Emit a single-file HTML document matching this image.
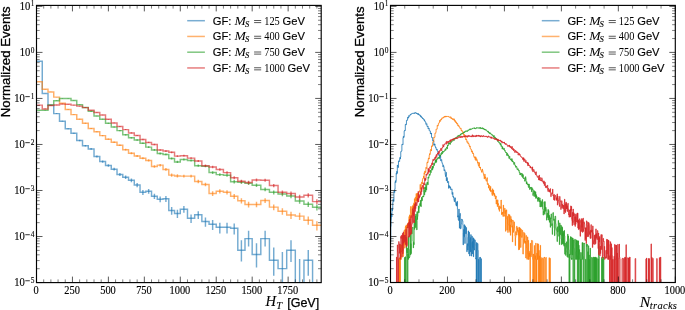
<!DOCTYPE html>
<html><head><meta charset="utf-8"><style>html,body{margin:0;padding:0;background:#fff;}svg{display:block;will-change:transform}</style></head>
<body><svg xmlns="http://www.w3.org/2000/svg" width="685" height="310" viewBox="0 0 685 310"><defs><clipPath id="cl"><rect x="36.5" y="5.4" width="284.70" height="277.20"/></clipPath><clipPath id="cr"><rect x="390.5" y="5.4" width="284.80" height="277.10"/></clipPath></defs><g clip-path="url(#cl)" stroke="#1f77b4" stroke-opacity="0.62" fill="none" stroke-width="1.45"><path d="M36.50 61.20H42.25V93.40H48.00V105.30H53.75V113.60H59.51V121.20H65.26V128.80H71.01V133.20H76.76V140.50H82.51V145.80H88.26V148.90H94.02V156.40H99.77V161.50H105.52V165.50H111.27V169.20H117.02V174.40H122.77V177.20H128.52V180.30H134.28V185.00H140.03V192.30H145.78V191.30H151.53V196.20H157.28V199.20H163.03V198.80H168.78V210.50H174.54V213.40H180.29V209.20H187.48V218.20H194.67V214.80H201.86V221.50H209.05V224.30H216.23V227.30H223.42V227.30H230.61V228.20H237.80V250.30H244.99V238.60H252.18V254.40H260.81V238.60H269.44V260.30H278.06V268.60H286.69V250.30H295.32V400.00H303.95V260.30H312.57V400.00H321.20"/><path d="M39.38 61.11V61.29M45.13 93.19V93.61M50.88 105.02V105.58M56.63 113.26V113.94M62.38 120.79V121.62M68.13 128.31V129.31M73.88 132.65V133.77M79.64 139.84V141.18M85.39 145.05V146.58M91.14 148.09V149.74M96.89 155.43V157.42M102.64 160.40V162.67M108.39 164.29V166.79M114.15 167.87V170.62M119.90 172.89V176.03M125.65 175.59V178.95M131.40 178.56V182.20M137.15 183.06V187.15M142.90 189.99V194.91M148.65 189.05V193.84M154.41 193.67V199.10M160.16 196.48V202.34M165.91 196.11V201.91M171.66 206.97V214.79M177.41 209.63V218.05M183.88 206.11V212.86M191.07 214.40V222.89M198.26 211.29V219.07M205.45 217.41V226.65M212.64 219.94V229.89M219.83 222.64V233.39M227.02 222.64V233.39M234.21 223.44V234.46M241.40 240.20V261.60M248.59 230.80V246.50M256.50 243.30V267.50M265.12 230.80V246.50M273.75 247.40V275.80M282.38 252.00V300.00M291.00 240.20V261.90M299.63 259.00V300.00M308.26 250.00V275.80M316.89 300.00V300.00"/></g><g clip-path="url(#cl)" stroke="#ff7f0e" stroke-opacity="0.62" fill="none" stroke-width="1.45"><path d="M36.50 81.70H42.25V89.20H48.00V91.90H53.75V97.10H59.51V103.30H65.26V109.40H71.01V114.60H76.76V119.20H82.51V123.30H88.26V128.40H94.02V131.70H99.77V135.60H105.52V139.20H111.27V142.20H117.02V145.30H122.77V149.70H128.52V153.20H134.28V155.90H140.03V158.20H145.78V160.40H151.53V166.50H157.28V165.10H163.03V169.40H168.78V175.10H174.54V175.90H180.29V176.10H187.48V176.10H194.67V181.40H201.86V184.40H209.05V193.50H216.23V191.30H223.42V192.30H230.61V196.30H237.80V200.70H244.99V204.40H252.18V204.40H260.81V200.50H269.44V207.10H278.06V211.30H286.69V215.00H295.32V216.10H303.95V220.20H312.57V225.30H321.20"/><path d="M39.38 81.55V81.85M45.13 89.02V89.39M50.88 91.70V92.10M56.63 96.88V97.33M62.38 103.04V103.57M68.13 109.09V109.71M73.88 114.25V114.95M79.64 118.81V119.60M85.39 122.87V123.74M91.14 127.91V128.90M96.89 131.17V132.24M102.64 135.02V136.20M108.39 138.56V139.86M114.15 141.51V142.91M119.90 144.56V146.07M125.65 148.87V150.56M131.40 152.30V154.14M137.15 154.94V156.91M142.90 157.18V159.27M148.65 159.33V161.53M154.41 165.26V167.83M160.16 163.90V166.38M165.91 168.07V170.83M171.66 173.57V176.76M177.41 174.34V177.59M183.88 174.69V177.62M191.07 174.69V177.62M198.26 179.80V183.14M205.45 182.68V186.28M212.64 191.36V195.89M219.83 189.27V193.56M227.02 190.22V194.62M234.21 194.02V198.88M241.40 198.17V203.60M248.59 201.64V207.61M256.50 201.86V207.31M265.12 198.19V203.12M273.75 204.40V210.23M282.38 208.32V214.80M291.00 211.75V218.88M299.63 212.77V220.10M308.26 216.54V224.68M316.89 221.19V230.48"/></g><g clip-path="url(#cl)" stroke="#2ca02c" stroke-opacity="0.62" fill="none" stroke-width="1.45"><path d="M36.50 110.30H42.25V110.30H48.00V105.00H53.75V100.70H59.51V98.40H65.26V98.40H71.01V100.40H76.76V104.80H82.51V107.40H88.26V111.30H94.02V116.00H99.77V119.20H105.52V123.20H111.27V127.00H117.02V130.60H122.77V134.80H128.52V137.80H134.28V140.00H140.03V143.30H145.78V147.10H151.53V149.90H157.28V153.50H163.03V154.40H168.78V158.50H174.54V161.90H180.29V159.50H187.48V160.40H194.67V165.70H201.86V166.20H209.05V172.50H216.23V174.60H223.42V175.30H230.61V181.70H237.80V182.20H244.99V183.20H252.18V185.20H260.81V189.40H269.44V192.30H278.06V194.00H286.69V195.90H295.32V201.00H303.95V204.20H312.57V207.30H321.20"/><path d="M39.38 109.99V110.62M45.13 109.99V110.62M50.88 104.73V105.28M56.63 100.45V100.95M62.38 98.17V98.64M68.13 98.17V98.64M73.88 100.16V100.65M79.64 104.53V105.08M85.39 107.11V107.69M91.14 110.98V111.63M96.89 115.64V116.37M102.64 118.81V119.60M108.39 122.77V123.64M114.15 126.53V127.48M119.90 130.08V131.13M125.65 134.23V135.39M131.40 137.18V138.44M137.15 139.35V140.67M142.90 142.59V144.03M148.65 146.33V147.91M154.41 149.07V150.77M160.16 152.59V154.45M165.91 153.47V155.37M171.66 157.48V159.58M177.41 160.79V163.08M183.88 158.56V160.49M191.07 159.44V161.41M198.26 164.61V166.86M205.45 165.09V167.37M212.64 171.21V173.88M219.83 173.24V176.06M227.02 173.92V176.78M234.21 180.09V183.45M241.40 180.57V183.98M248.59 181.53V185.02M256.50 183.59V186.95M265.12 187.62V191.35M273.75 190.40V194.41M282.38 192.02V196.20M291.00 193.83V198.22M299.63 198.66V203.65M308.26 201.68V207.09M316.89 204.59V210.44"/></g><g clip-path="url(#cl)" stroke="#d62728" stroke-opacity="0.62" fill="none" stroke-width="1.45"><path d="M36.50 105.10H42.25V108.90H48.00V105.50H53.75V105.00H59.51V104.10H65.26V104.30H71.01V105.10H76.76V106.10H82.51V107.60H88.26V110.20H94.02V112.40H99.77V115.00H105.52V119.30H111.27V122.90H117.02V126.50H122.77V129.60H128.52V132.90H134.28V135.50H140.03V139.50H145.78V142.40H151.53V144.40H157.28V150.00H163.03V151.00H168.78V152.30H174.54V156.10H180.29V155.70H187.48V158.10H194.67V160.90H201.86V165.70H209.05V167.00H216.23V169.40H223.42V172.60H230.61V177.70H237.80V181.30H244.99V182.40H252.18V179.90H260.81V180.30H269.44V185.50H278.06V192.30H286.69V193.50H295.32V197.00H303.95V195.20H312.57V201.60H321.20"/><path d="M39.38 104.83V105.38M45.13 108.60V109.21M50.88 105.22V105.78M56.63 104.73V105.28M62.38 103.83V104.37M68.13 104.03V104.57M73.88 104.83V105.38M79.64 105.82V106.39M85.39 107.31V107.90M91.14 109.89V110.52M96.89 112.07V112.73M102.64 114.65V115.36M108.39 118.91V119.70M114.15 122.47V123.34M119.90 126.03V126.98M125.65 129.10V130.12M131.40 132.35V133.46M137.15 134.92V136.10M142.90 138.86V140.16M148.65 141.71V143.12M154.41 143.67V145.15M160.16 149.17V150.87M165.91 150.15V151.89M171.66 151.42V153.22M177.41 155.13V157.11M183.88 154.84V156.60M191.07 157.19V159.05M198.26 159.93V161.92M205.45 164.61V166.86M212.64 165.87V168.20M219.83 168.20V170.67M227.02 171.31V173.98M234.21 176.24V179.28M241.40 179.70V183.04M248.59 180.76V184.19M256.50 178.49V181.42M265.12 178.87V181.84M273.75 183.88V187.26M282.38 190.40V194.41M291.00 191.54V195.67M299.63 194.87V199.38M308.26 193.16V197.47M316.89 199.23V204.30"/></g><g clip-path="url(#cr)" stroke="#1f77b4" stroke-opacity="0.85" fill="none" stroke-width="0.95"><path d="M390.50 242.6H390.78V226.5H391.07V219.7H391.35V213.4H391.64V217.0H391.92V208.4H392.21V210.8H392.49V208.2H392.78V202.6H393.06V198.9H393.35V200.4H393.63V201.4H393.92V191.2H394.20V190.8H394.49V192.6H394.77V189.0H395.06V182.0H395.34V180.7H395.63V182.6H395.91V180.9H396.20V173.2H396.48V174.2H396.77V171.3H397.05V173.3H397.34V165.1H397.62V166.0H397.90V167.6H398.19V167.3H398.47V160.9H398.76V161.2H399.04V161.2H399.33V161.5H399.61V158.7H399.90V157.4H400.18V159.0H400.47V157.0H400.75V151.6H401.04V151.6H401.32V151.2H401.61V150.9H401.89V144.4H402.18V144.6H402.46V144.2H402.75V144.7H403.03V137.6H403.32V136.3H403.60V137.6H403.89V136.8H404.17V131.1H404.46V130.4H404.74V130.7H405.02V130.6H405.31V124.5H405.59V124.1H405.88V124.7H406.16V124.7H406.45V120.5H406.73V120.1H407.02V120.3H407.30V120.0H407.59V117.6H407.87V117.0H408.16V118.1H408.44V117.7H408.73V115.7H409.01V116.1H409.30V116.2H409.58V116.1H409.87V115.2H410.15V114.7H410.44V114.1H410.72V114.5H411.01V114.1H411.29V114.0H411.58V113.9H411.86V113.5H412.14V113.5H412.43V113.5H412.71V113.1H413.00V113.1H413.28V113.2H413.57V113.4H413.85V113.5H414.14V113.3H414.42V113.5H414.71V112.7H414.99V113.0H415.28V112.8H415.56V112.7H415.85V112.9H416.13V113.5H416.42V113.0H416.70V113.3H416.99V113.8H417.27V113.8H417.56V113.6H417.84V114.4H418.13V113.6H418.41V114.6H418.70V114.3H418.98V115.1H419.26V115.0H419.55V114.9H419.83V114.9H420.12V116.1H420.40V115.7H420.69V116.7H420.97V116.1H421.26V117.5H421.54V117.2H421.83V117.2H422.11V117.5H422.40V118.8H422.68V118.4H422.97V118.5H423.25V118.8H423.54V119.4H423.82V119.3H424.11V120.5H424.39V119.9H424.68V121.1H424.96V121.7H425.25V121.9H425.53V122.0H425.82V124.2H426.10V124.0H426.38V124.2H426.67V123.7H426.95V126.4H427.24V126.4H427.52V126.7H427.81V126.2H428.09V128.9H428.38V128.6H428.66V128.1H428.95V128.4H429.23V130.8H429.52V130.8H429.80V130.9H430.09V131.0H430.37V133.7H430.66V133.2H430.94V134.0H431.23V133.0H431.51V137.3H431.80V137.6H432.08V137.5H432.37V137.6H432.65V140.6H432.94V141.1H433.22V140.1H433.50V141.1H433.79V145.2H434.07V144.3H434.36V145.0H434.64V143.9H434.93V146.3H435.21V146.5H435.50V147.7H435.78V147.4H436.07V148.8H436.35V149.8H436.64V150.0H436.92V149.3H437.21V150.6H437.49V151.4H437.78V152.2H438.06V152.1H438.35V154.2H438.63V155.1H438.92V155.4H439.20V154.6H439.49V158.1H439.77V157.4H440.06V157.2H440.34V155.4H440.62V160.7H440.91V160.1H441.19V160.2H441.48V159.6H441.76V161.9H442.05V163.3H442.33V163.6H442.62V164.3H442.90V166.8H443.19V165.4H443.47V165.8H443.76V166.9H444.04V170.7H444.33V170.2H444.61V169.7H444.90V170.9H445.18V174.6H445.47V176.5H445.75V175.7H446.04V172.3H446.32V180.9H446.61V178.4H446.89V177.6H447.18V178.4H447.46V182.7H447.74V181.6H448.03V181.5H448.31V181.6H448.60V188.3H448.88V185.5H449.17V186.6H449.45V186.1H449.74V188.0H450.02V187.3H450.31V186.9H450.59V189.3H450.88V189.7H451.16V189.3H451.45V189.3H451.73V188.9H452.02V194.4H452.30V194.4H452.59V192.4H452.87V196.8H453.16V196.3H453.44V197.8H453.73V197.5H454.01V200.4H454.30V201.7H454.58V199.2H454.86V197.8H455.15V198.1H455.43V201.7H455.72V202.8H456.00V205.4H456.29V202.6H456.57V206.1H456.86V204.5H457.14V201.3H457.43V209.5H457.71V217.1H458.00V215.7H458.28V219.9H458.57V220.4H458.85V209.0H459.14V216.3H459.42V228.2H459.71V216.2H459.99V213.4H460.28V225.3H460.56V228.9H460.85V227.7H461.13V224.2H461.42V222.3H461.70V219.0H461.98V219.7H462.27V220.3H462.55V220.9H462.84V224.8H463.12V244.9H463.41V233.0H463.69V229.5H463.98V236.4H464.26V224.7H464.55V237.4H464.83V243.5H465.12V225.9H465.40V228.7H465.69V233.7H465.97V227.4H466.26V227.9H466.54V233.8H466.83V251.8H467.11V245.6H467.40V243.7H467.68V250.0H467.97V237.3H468.25V230.9H468.54V245.9H468.82V253.9H469.10V232.2H469.39V246.9H469.67V256.0H469.96V239.5H470.24V237.6H470.53V251.9H470.81V234.6H471.10V250.1H471.38V256.1H471.67V242.5H471.95V236.2H472.24V253.9H472.52V241.6H472.81V247.6H473.09V237.8H473.38V256.8H473.66V238.5H473.95V248.7H474.23V250.1H474.52V239.7H474.80V240.1H475.09V240.4H475.37V245.0H475.66V259.0H475.94V258.5H476.22V400.0H476.51V242.5H476.79V400.0H477.08H477.36V243.4H477.65V243.7H477.93V250.5H478.22V400.0H478.50V259.4H478.79H479.07V400.0H479.36V257.9H479.64V257.6H479.93V258.2H480.21V257.3H480.50V400.0H480.78H481.07V258.7H481.35V400.0H481.64H481.92H482.21H482.49H482.78H483.06H483.34H483.63H483.91H484.20H484.48H484.77H485.05H485.34H485.62H485.91H486.19H486.48H486.76H487.05H487.33H487.62H487.90H488.19H488.47H488.76H489.04H489.33H489.61H489.90H490.18H490.46H490.75H491.03H491.32H491.60H491.89H492.17H492.46H492.74H493.03H493.31H493.60H493.88H494.17H494.45H494.74H495.02H495.31H495.59H495.88H496.16H496.45H496.73H497.02H497.30H497.58H497.87H498.15H498.44H498.72H499.01H499.29H499.58H499.86H500.15H500.43H500.72H501.00H501.29H501.57H501.86H502.14H502.43H502.71H503.00H503.28H503.57H503.85H504.14H504.42H504.70H504.99H505.27H505.56H505.84H506.13H506.41H506.70H506.98H507.27H507.55H507.84H508.12H508.41H508.69H508.98H509.26H509.55H509.83H510.12H510.40H510.69H510.97H511.26H511.54H511.82H512.11H512.39H512.68H512.96H513.25H513.53H513.82H514.10H514.39H514.67H514.96H515.24H515.53H515.81H516.10H516.38H516.67H516.95H517.24H517.52H517.81H518.09H518.38H518.66H518.94H519.23H519.51H519.80H520.08H520.37H520.65H520.94H521.22H521.51H521.79H522.08H522.36H522.65H522.93H523.22H523.50H523.79H524.07H524.36H524.64H524.93H525.21H525.50H525.78H526.06H526.35H526.63H526.92H527.20H527.49H527.77H528.06H528.34H528.63H528.91H529.20H529.48H529.77H530.05H530.34H530.62H530.91H531.19H531.48H531.76H532.05H532.33H532.62H532.90H533.18H533.47H533.75H534.04H534.32H534.61H534.89H535.18H535.46H535.75H536.03H536.32H536.60H536.89H537.17H537.46H537.74H538.03H538.31H538.60H538.88H539.17H539.45H539.74H540.02H540.30H540.59H540.87H541.16H541.44H541.73H542.01H542.30H542.58H542.87H543.15H543.44H543.72H544.01H544.29H544.58H544.86H545.15H545.43H545.72H546.00H546.29H546.57H546.86H547.14H547.42H547.71H547.99H548.28H548.56H548.85H549.13H549.42H549.70H549.99H550.27H550.56H550.84H551.13H551.41H551.70H551.98H552.27H552.55H552.84H553.12H553.41H553.69H553.98H554.26H554.54H554.83H555.11H555.40H555.68H555.97H556.25H556.54H556.82H557.11H557.39H557.68H557.96H558.25H558.53H558.82H559.10H559.39H559.67H559.96H560.24H560.53H560.81H561.10H561.38H561.66H561.95H562.23H562.52H562.80H563.09H563.37H563.66H563.94H564.23H564.51H564.80H565.08H565.37H565.65H565.94H566.22H566.51H566.79H567.08H567.36H567.65H567.93H568.22H568.50H568.78H569.07H569.35H569.64H569.92H570.21H570.49H570.78H571.06H571.35H571.63H571.92H572.20H572.49H572.77H573.06H573.34H573.63H573.91H574.20H574.48H574.77H575.05H575.34H575.62H575.90H576.19H576.47H576.76H577.04H577.33H577.61H577.90H578.18H578.47H578.75H579.04H579.32H579.61H579.89H580.18H580.46H580.75H581.03H581.32H581.60H581.89H582.17H582.46H582.74H583.02H583.31H583.59H583.88H584.16H584.45H584.73H585.02H585.30H585.59H585.87H586.16H586.44H586.73H587.01H587.30H587.58H587.87H588.15H588.44H588.72H589.01H589.29H589.58H589.86H590.14H590.43H590.71H591.00H591.28H591.57H591.85H592.14H592.42H592.71H592.99H593.28H593.56H593.85H594.13H594.42H594.70H594.99H595.27H595.56H595.84H596.13H596.41H596.70H596.98H597.26H597.55H597.83H598.12H598.40H598.69H598.97H599.26H599.54H599.83H600.11H600.40H600.68H600.97H601.25H601.54H601.82H602.11H602.39H602.68H602.96H603.25H603.53H603.82H604.10H604.38H604.67H604.95H605.24H605.52H605.81H606.09H606.38H606.66H606.95H607.23H607.52H607.80H608.09H608.37H608.66H608.94H609.23H609.51H609.80H610.08H610.37H610.65H610.94H611.22H611.50H611.79H612.07H612.36H612.64H612.93H613.21H613.50H613.78H614.07H614.35H614.64H614.92H615.21H615.49H615.78H616.06H616.35H616.63H616.92H617.20H617.49H617.77H618.06H618.34H618.62H618.91H619.19H619.48H619.76H620.05H620.33H620.62H620.90H621.19H621.47H621.76H622.04H622.33H622.61H622.90H623.18H623.47H623.75H624.04H624.32H624.61H624.89H625.18H625.46H625.74H626.03H626.31H626.60H626.88H627.17H627.45H627.74H628.02H628.31H628.59H628.88H629.16H629.45H629.73H630.02H630.30H630.59H630.87H631.16H631.44H631.73H632.01H632.30H632.58H632.86H633.15H633.43H633.72H634.00H634.29H634.57H634.86H635.14H635.43H635.71H636.00H636.28H636.57H636.85H637.14H637.42H637.71H637.99H638.28H638.56H638.85H639.13H639.42H639.70H639.98H640.27H640.55H640.84H641.12H641.41H641.69H641.98H642.26H642.55H642.83H643.12H643.40H643.69H643.97H644.26H644.54H644.83H645.11H645.40H645.68H645.97H646.25H646.54H646.82H647.10H647.39H647.67H647.96H648.24H648.53H648.81H649.10H649.38H649.67H649.95H650.24H650.52H650.81H651.09H651.38H651.66H651.95H652.23H652.52H652.80H653.09H653.37H653.66H653.94H654.22H654.51H654.79H655.08H655.36H655.65H655.93H656.22H656.50H656.79H657.07H657.36H657.64H657.93H658.21H658.50H658.78H659.07H659.35H659.64H659.92H660.21H660.49H660.78H661.06H661.34H661.63H661.91H662.20H662.48H662.77H663.05H663.34H663.62H663.91H664.19H664.48H664.76H665.05H665.33H665.62H665.90H666.19H666.47H666.76H667.04H667.33H667.61H667.90H668.18H668.46H668.75H669.03H669.32H669.60H669.89H670.17H670.46H670.74H671.03H671.31H671.60H671.88H672.17H672.45H672.74H673.02H673.31H673.59H673.88H674.16H674.45H674.73H675.02H675.30"/></g><g clip-path="url(#cr)" stroke="#ff7f0e" stroke-opacity="0.85" fill="none" stroke-width="0.95"><path d="M390.50 400.0H390.78H391.07H391.35H391.64H391.92H392.21H392.49H392.78H393.06H393.35H393.63H393.92H394.20H394.49H394.77H395.06H395.34H395.63H395.91H396.20H396.48H396.77H397.05H397.34H397.62H397.90H398.19H398.47H398.76H399.04V258.1H399.33V400.0H399.61V257.7H399.90V400.0H400.18H400.47V244.5H400.75V255.1H401.04V259.4H401.32V245.0H401.61V251.7H401.89V250.6H402.18V246.6H402.46V235.5H402.75V240.6H403.03V256.6H403.32V243.2H403.60V235.3H403.89V245.3H404.17V230.2H404.46V229.9H404.74V248.2H405.02V233.5H405.31V227.0H405.59V226.2H405.88V234.8H406.16V224.9H406.45V238.8H406.73V244.8H407.02V226.0H407.30V227.4H407.59V223.8H407.87V226.7H408.16V222.8H408.44V227.8H408.73V219.8H409.01V216.5H409.30V221.4H409.58V214.9H409.87V229.4H410.15V222.2H410.44V208.7H410.72V206.5H411.01V213.1H411.29V213.7H411.58V217.9H411.86V209.3H412.14V206.4H412.43V214.3H412.71V205.6H413.00V205.1H413.28V204.6H413.57V209.2H413.85V202.9H414.14V208.6H414.42V198.7H414.71V202.0H414.99V204.8H415.28V197.3H415.56V197.2H415.85V200.9H416.13V193.6H416.42V201.3H416.70V195.3H416.99V193.5H417.27V200.7H417.56V193.9H417.84V193.1H418.13V193.0H418.41V195.0H418.70V192.3H418.98V191.9H419.26V191.7H419.55V190.7H419.83V192.1H420.12V184.4H420.40V189.2H420.69V188.3H420.97V187.5H421.26V183.5H421.54V182.3H421.83V182.2H422.11V184.0H422.40V179.6H422.68V179.0H422.97V178.0H423.25V178.1H423.54V176.0H423.82V178.0H424.11V172.7H424.39V174.2H424.68V171.1H424.96V171.0H425.25V172.0H425.53V172.6H425.82V167.5H426.10V167.4H426.38V167.8H426.67V168.6H426.95V162.7H427.24V161.9H427.52V162.9H427.81V162.4H428.09V159.7H428.38V158.1H428.66V158.1H428.95V159.0H429.23V155.2H429.52V153.7H429.80V154.6H430.09V153.6H430.37V150.2H430.66V149.5H430.94V150.1H431.23V150.9H431.51V146.0H431.80V146.2H432.08V145.6H432.37V146.3H432.65V142.4H432.94V141.7H433.22V141.5H433.50V141.8H433.79V137.2H434.07V137.5H434.36V137.3H434.64V137.3H434.93V133.2H435.21V133.3H435.50V133.3H435.78V132.3H436.07V129.1H436.35V129.2H436.64V129.2H436.92V129.1H437.21V125.3H437.49V125.8H437.78V126.1H438.06V125.3H438.35V123.6H438.63V123.0H438.92V123.0H439.20V122.7H439.49V120.4H439.77V120.8H440.06V121.1H440.34V121.3H440.62V119.6H440.91V119.3H441.19V119.9H441.48V119.3H441.76V118.1H442.05V117.9H442.33V118.2H442.62V118.1H442.90V117.7H443.19V117.6H443.47V118.0H443.76V117.4H444.04V116.4H444.33V116.8H444.61V116.7H444.90V117.1H445.18V116.2H445.47V116.8H445.75V116.4H446.04V116.6H446.32V116.8H446.61V116.2H446.89V116.5H447.18V116.4H447.46V116.4H447.74V116.5H448.03V116.6H448.31V116.4H448.60V116.9H448.88V116.8H449.17V117.0H449.45V117.3H449.74V117.4H450.02V117.3H450.31V117.2H450.59V116.8H450.88V118.4H451.16V117.8H451.45V118.5H451.73V118.2H452.02V118.8H452.30V119.4H452.59V119.2H452.87V118.6H453.16V119.6H453.44V119.6H453.73V119.8H454.01V118.9H454.30V121.0H454.58V121.2H454.86V120.4H455.15V120.7H455.43V122.4H455.72V121.8H456.00V122.2H456.29V122.0H456.57V123.6H456.86V124.1H457.14V123.4H457.43V123.7H457.71V125.7H458.00V125.6H458.28V125.0H458.57V125.4H458.85V126.9H459.14V126.7H459.42V126.9H459.71V127.5H459.99V128.6H460.28V128.5H460.56V128.6H460.85V128.3H461.13V130.7H461.42V130.6H461.70V130.2H461.98V131.0H462.27V132.1H462.55V132.1H462.84V132.5H463.12V132.1H463.41V134.5H463.69V135.3H463.98V134.4H464.26V134.8H464.55V136.9H464.83V137.0H465.12V136.4H465.40V136.8H465.69V139.7H465.97V139.1H466.26V139.0H466.54V139.8H466.83V142.2H467.11V142.1H467.40V142.3H467.68V141.7H467.97V143.8H468.25V143.3H468.54V143.7H468.82V143.8H469.10V145.9H469.39V145.8H469.67V146.9H469.96V146.2H470.24V148.7H470.53V149.0H470.81V149.2H471.10V149.2H471.38V151.4H471.67V152.1H471.95V150.9H472.24V151.2H472.52V153.5H472.81V153.3H473.09V153.0H473.38V154.0H473.66V156.0H473.95V157.1H474.23V157.6H474.52V157.4H474.80V156.8H475.09V159.6H475.37V157.7H475.66V156.9H475.94V160.7H476.22V158.9H476.51V158.7H476.79V159.5H477.08V160.4H477.36V162.0H477.65V163.2H477.93V162.1H478.22V165.3H478.50V166.1H478.79V166.1H479.07V162.6H479.36V167.7H479.64V167.2H479.93V167.8H480.21V167.0H480.50V169.5H480.78V169.7H481.07V170.6H481.35V170.8H481.64V172.3H481.92V171.1H482.21V169.0H482.49V170.2H482.78V171.5H483.06V173.1H483.34V173.8H483.63V175.3H483.91V176.2H484.20V178.9H484.48V176.6H484.77V174.1H485.05V178.0H485.34V176.9H485.62V178.9H485.91V180.3H486.19V181.2H486.48V181.1H486.76V178.8H487.05V177.7H487.33V184.5H487.62V183.9H487.90V183.6H488.19V183.9H488.47V188.1H488.76V185.9H489.04V185.5H489.33V185.4H489.61V190.1H489.90V188.2H490.18V191.0H490.46V186.4H490.75V191.8H491.03V190.5H491.32V190.8H491.60V191.0H491.89V194.1H492.17V195.5H492.46V188.8H492.74V191.6H493.03V193.7H493.31V190.0H493.60V194.4H493.88V193.1H494.17V196.3H494.45V193.8H494.74V195.3H495.02V195.7H495.31V199.0H495.59V197.8H495.88V196.0H496.16V204.1H496.45V200.0H496.73V201.3H497.02V201.5H497.30V206.6H497.58V199.8H497.87V204.8H498.15V203.6H498.44V205.0H498.72V209.3H499.01V206.0H499.29V211.3H499.58V208.9H499.86V207.3H500.15V206.8H500.43V207.1H500.72V208.4H501.00V200.0H501.29V207.3H501.57V214.7H501.86V212.8H502.14V213.6H502.43V212.1H502.71V214.6H503.00V216.5H503.28V205.1H503.57V213.3H503.85V215.7H504.14V215.8H504.42V216.2H504.70V208.2H504.99V213.5H505.27V210.4H505.56V231.3H505.84V215.8H506.13V211.9H506.41V209.8H506.70V218.9H506.98V230.1H507.27V216.3H507.55V224.3H507.84V232.5H508.12V225.4H508.41V214.8H508.69V214.2H508.98V217.8H509.26V230.4H509.55V214.8H509.83V232.3H510.12V224.9H510.40V235.3H510.69V216.4H510.97V222.2H511.26V219.1H511.54V225.6H511.82V227.2H512.11V225.8H512.39V241.9H512.68V220.0H512.96V221.0H513.25V232.4H513.53V229.7H513.82V227.5H514.10V221.9H514.39V227.0H514.67V230.8H514.96V236.1H515.24V245.6H515.53V237.6H515.81V231.7H516.10V235.1H516.38V232.3H516.67V226.2H516.95V229.4H517.24V231.3H517.52V227.8H517.81V232.8H518.09V235.2H518.38V230.4H518.66V249.9H518.94V227.2H519.23V249.4H519.51V227.7H519.80V236.4H520.08V228.3H520.37V236.7H520.65V247.5H520.94V229.1H521.22V235.9H521.51V236.8H521.79V237.5H522.08V230.2H522.36V230.5H522.65V236.6H522.93V254.1H523.22V244.5H523.50V239.1H523.79V232.3H524.07V236.5H524.36V242.5H524.64V233.4H524.93V243.5H525.21V242.9H525.50V241.0H525.78V258.0H526.06V235.4H526.35V238.6H526.63V248.0H526.92V259.3H527.20V242.1H527.49V236.9H527.77V253.9H528.06V259.4H528.34V240.3H528.63V259.4H528.91H529.20V252.9H529.48V256.6H529.77V251.2H530.05V400.0H530.34V243.2H530.62V251.2H530.91V256.8H531.19V254.9H531.48V240.4H531.76V240.5H532.05V240.7H532.33V240.8H532.62V259.4H532.90V400.0H533.18V254.0H533.47V400.0H533.75H534.04H534.32V245.5H534.61V259.4H534.89V400.0H535.18V255.7H535.46V259.4H535.75V243.1H536.03V400.0H536.32V259.4H536.60V400.0H536.89V253.1H537.17V259.4H537.46V243.6H537.74V259.4H538.03V244.0H538.31V244.1H538.60V400.0H538.88V250.4H539.17V400.0H539.45V255.9H539.74V259.4H540.02V400.0H540.30V245.3H540.59V400.0H540.87H541.16H541.44V258.6H541.73V257.6H542.01V400.0H542.30V258.9H542.58V258.6H542.87V258.4H543.15V258.7H543.44V400.0H543.72H544.01V257.3H544.29V258.0H544.58V257.4H544.86V400.0H545.15H545.43H545.72V258.2H546.00V257.5H546.29V400.0H546.57H546.86H547.14H547.42H547.71H547.99H548.28H548.56H548.85H549.13V257.7H549.42V400.0H549.70H549.99V258.3H550.27V400.0H550.56H550.84H551.13H551.41H551.70H551.98H552.27H552.55H552.84H553.12H553.41H553.69H553.98H554.26H554.54H554.83H555.11H555.40H555.68H555.97H556.25H556.54H556.82H557.11H557.39H557.68H557.96H558.25H558.53H558.82H559.10H559.39H559.67H559.96H560.24H560.53H560.81H561.10H561.38H561.66H561.95H562.23H562.52H562.80H563.09H563.37H563.66H563.94H564.23H564.51H564.80H565.08H565.37H565.65H565.94H566.22H566.51H566.79H567.08H567.36H567.65H567.93H568.22H568.50H568.78H569.07H569.35H569.64H569.92H570.21H570.49H570.78H571.06H571.35H571.63H571.92H572.20H572.49H572.77H573.06H573.34H573.63H573.91H574.20H574.48H574.77H575.05H575.34H575.62H575.90H576.19H576.47H576.76H577.04H577.33H577.61H577.90H578.18H578.47H578.75H579.04H579.32H579.61H579.89H580.18H580.46H580.75H581.03H581.32H581.60H581.89H582.17H582.46H582.74H583.02H583.31H583.59H583.88H584.16H584.45H584.73H585.02H585.30H585.59H585.87H586.16H586.44H586.73H587.01H587.30H587.58H587.87H588.15H588.44H588.72H589.01H589.29H589.58H589.86H590.14H590.43H590.71H591.00H591.28H591.57H591.85H592.14H592.42H592.71H592.99H593.28H593.56H593.85H594.13H594.42H594.70H594.99H595.27H595.56H595.84H596.13H596.41H596.70H596.98H597.26H597.55H597.83H598.12H598.40H598.69H598.97H599.26H599.54H599.83H600.11H600.40H600.68H600.97H601.25H601.54H601.82H602.11H602.39H602.68H602.96H603.25H603.53H603.82H604.10H604.38H604.67H604.95H605.24H605.52H605.81H606.09H606.38H606.66H606.95H607.23H607.52H607.80H608.09H608.37H608.66H608.94H609.23H609.51H609.80H610.08H610.37H610.65H610.94H611.22H611.50H611.79H612.07H612.36H612.64H612.93H613.21H613.50H613.78H614.07H614.35H614.64H614.92H615.21H615.49H615.78H616.06H616.35H616.63H616.92H617.20H617.49H617.77H618.06H618.34H618.62H618.91H619.19H619.48H619.76H620.05H620.33H620.62H620.90H621.19H621.47H621.76H622.04H622.33H622.61H622.90H623.18H623.47H623.75H624.04H624.32H624.61H624.89H625.18H625.46H625.74H626.03H626.31H626.60H626.88H627.17H627.45H627.74H628.02H628.31H628.59H628.88H629.16H629.45H629.73H630.02H630.30H630.59H630.87H631.16H631.44H631.73H632.01H632.30H632.58H632.86H633.15H633.43H633.72H634.00H634.29H634.57H634.86H635.14H635.43H635.71H636.00H636.28H636.57H636.85H637.14H637.42H637.71H637.99H638.28H638.56H638.85H639.13H639.42H639.70H639.98H640.27H640.55H640.84H641.12H641.41H641.69H641.98H642.26H642.55H642.83H643.12H643.40H643.69H643.97H644.26H644.54H644.83H645.11H645.40H645.68H645.97H646.25H646.54H646.82H647.10H647.39H647.67H647.96H648.24H648.53H648.81H649.10H649.38H649.67H649.95H650.24H650.52H650.81H651.09H651.38H651.66H651.95H652.23H652.52H652.80H653.09H653.37H653.66H653.94H654.22H654.51H654.79H655.08H655.36H655.65H655.93H656.22H656.50H656.79H657.07H657.36H657.64H657.93H658.21H658.50H658.78H659.07H659.35H659.64H659.92H660.21H660.49H660.78H661.06H661.34H661.63H661.91H662.20H662.48H662.77H663.05H663.34H663.62H663.91H664.19H664.48H664.76H665.05H665.33H665.62H665.90H666.19H666.47H666.76H667.04H667.33H667.61H667.90H668.18H668.46H668.75H669.03H669.32H669.60H669.89H670.17H670.46H670.74H671.03H671.31H671.60H671.88H672.17H672.45H672.74H673.02H673.31H673.59H673.88H674.16H674.45H674.73H675.02H675.30"/></g><g clip-path="url(#cr)" stroke="#2ca02c" stroke-opacity="0.85" fill="none" stroke-width="0.95"><path d="M390.50 400.0H390.78H391.07H391.35H391.64H391.92H392.21H392.49H392.78H393.06H393.35H393.63H393.92H394.20H394.49H394.77H395.06H395.34H395.63H395.91H396.20H396.48H396.77H397.05H397.34H397.62H397.90H398.19H398.47H398.76H399.04H399.33H399.61H399.90H400.18H400.47H400.75H401.04H401.32H401.61H401.89H402.18H402.46H402.75H403.03H403.32H403.60H403.89H404.17H404.46V257.5H404.74V257.4H405.02V400.0H405.31V258.3H405.59V256.8H405.88V400.0H406.16V256.5H406.45V242.1H406.73V251.4H407.02V253.0H407.30V248.2H407.59V400.0H407.87V254.0H408.16V259.4H408.44V236.3H408.73V249.4H409.01V258.0H409.30V257.4H409.58V256.8H409.87V249.4H410.15V232.6H410.44V254.9H410.72V243.6H411.01V253.6H411.29V229.9H411.58V233.8H411.86V233.8H412.14V228.2H412.43V227.6H412.71V227.1H413.00V241.1H413.28V247.9H413.57V242.4H413.85V244.7H414.14V220.2H414.42V229.4H414.71V225.7H414.99V224.1H415.28V215.9H415.56V227.6H415.85V214.1H416.13V219.0H416.42V220.6H416.70V229.9H416.99V211.6H417.27V219.5H417.56V216.5H417.84V212.0H418.13V211.6H418.41V205.9H418.70V212.9H418.98V208.3H419.26V206.9H419.55V206.8H419.83V203.5H420.12V205.9H420.40V200.2H420.69V205.4H420.97V206.6H421.26V201.5H421.54V197.3H421.83V200.9H422.11V200.2H422.40V197.3H422.68V196.2H422.97V197.0H423.25V195.9H423.54V196.6H423.82V190.1H424.11V192.0H424.39V194.9H424.68V187.3H424.96V189.0H425.25V187.1H425.53V192.1H425.82V183.8H426.10V186.5H426.38V190.1H426.67V185.3H426.95V182.4H427.24V183.5H427.52V182.3H427.81V184.9H428.09V177.0H428.38V178.1H428.66V178.2H428.95V175.9H429.23V174.1H429.52V174.9H429.80V175.3H430.09V174.2H430.37V170.1H430.66V172.0H430.94V172.5H431.23V170.2H431.51V168.7H431.80V168.8H432.08V166.5H432.37V170.1H432.65V166.2H432.94V168.2H433.22V166.7H433.50V165.8H433.79V163.1H434.07V165.4H434.36V163.4H434.64V163.4H434.93V162.2H435.21V159.8H435.50V162.1H435.78V162.9H436.07V159.9H436.35V161.9H436.64V158.9H436.92V159.4H437.21V159.0H437.49V158.2H437.78V158.3H438.06V157.1H438.35V157.7H438.63V158.2H438.92V158.8H439.20V157.4H439.49V156.9H439.77V155.8H440.06V155.4H440.34V156.0H440.62V155.0H440.91V153.4H441.19V154.4H441.48V154.1H441.76V152.2H442.05V153.8H442.33V153.5H442.62V151.0H442.90V151.6H443.19V152.2H443.47V151.7H443.76V151.9H444.04V151.2H444.33V150.6H444.61V150.3H444.90V150.3H445.18V148.8H445.47V150.3H445.75V150.1H446.04V148.6H446.32V148.1H446.61V147.1H446.89V147.7H447.18V148.8H447.46V145.1H447.74V146.1H448.03V145.3H448.31V144.7H448.60V142.7H448.88V144.0H449.17V143.5H449.45V143.8H449.74V142.5H450.02V144.4H450.31V143.2H450.59V142.8H450.88V141.6H451.16V142.3H451.45V141.4H451.73V141.3H452.02V140.8H452.30V141.0H452.59V141.1H452.87V140.8H453.16V139.2H453.44V139.1H453.73V140.1H454.01V140.4H454.30V139.3H454.58V138.4H454.86V138.7H455.15V138.7H455.43V137.6H455.72V137.7H456.00V137.9H456.29V138.4H456.57V137.2H456.86V136.8H457.14V136.7H457.43V137.0H457.71V136.3H458.00V135.4H458.28V136.3H458.57V136.0H458.85V135.5H459.14V135.7H459.42V136.0H459.71V135.6H459.99V134.9H460.28V134.1H460.56V135.1H460.85V134.7H461.13V133.5H461.42V133.8H461.70V133.6H461.98V133.4H462.27V133.9H462.55V133.3H462.84V133.6H463.12V132.5H463.41V132.6H463.69V132.3H463.98V131.8H464.26V132.7H464.55V131.8H464.83V131.7H465.12V132.0H465.40V131.3H465.69V130.9H465.97V130.8H466.26V131.2H466.54V131.4H466.83V130.9H467.11V130.9H467.40V131.4H467.68V130.6H467.97V129.9H468.25V130.2H468.54V130.4H468.82V130.2H469.10V129.6H469.39V129.5H469.67V128.9H469.96V130.0H470.24V129.1H470.53V128.9H470.81V129.2H471.10V129.3H471.38V129.3H471.67V129.1H471.95V128.6H472.24V128.3H472.52V128.7H472.81V128.3H473.09V128.3H473.38V128.1H473.66V128.1H473.95V128.0H474.23V127.8H474.52V128.6H474.80V128.0H475.09V128.7H475.37V128.8H475.66V128.4H475.94V128.5H476.22V127.7H476.51V127.6H476.79V128.1H477.08V127.9H477.36V127.9H477.65V128.0H477.93V127.8H478.22V127.8H478.50V128.1H478.79V128.3H479.07V128.2H479.36V127.8H479.64V128.2H479.93V127.5H480.21V128.2H480.50V127.7H480.78V128.7H481.07V128.5H481.35V128.0H481.64V128.3H481.92V128.6H482.21V127.7H482.49V128.5H482.78V128.8H483.06V129.1H483.34V128.2H483.63V128.6H483.91V129.1H484.20V129.9H484.48V129.1H484.77V129.4H485.05V129.7H485.34V129.5H485.62V130.2H485.91V129.8H486.19V130.3H486.48V130.6H486.76V130.8H487.05V131.1H487.33V131.7H487.62V132.0H487.90V131.1H488.19V131.4H488.47V132.8H488.76V132.3H489.04V132.9H489.33V133.7H489.61V132.6H489.90V132.6H490.18V133.8H490.46V133.5H490.75V133.9H491.03V134.2H491.32V134.4H491.60V134.2H491.89V135.2H492.17V135.3H492.46V134.9H492.74V135.2H493.03V136.5H493.31V136.2H493.60V137.0H493.88V135.5H494.17V138.2H494.45V137.4H494.74V137.2H495.02V137.1H495.31V138.4H495.59V137.9H495.88V139.1H496.16V138.5H496.45V139.6H496.73V139.9H497.02V140.0H497.30V139.0H497.58V141.5H497.87V141.4H498.15V141.3H498.44V141.3H498.72V142.7H499.01V142.9H499.29V142.6H499.58V142.7H499.86V144.2H500.15V143.7H500.43V144.9H500.72V143.5H501.00V146.4H501.29V145.7H501.57V146.0H501.86V146.3H502.14V149.1H502.43V146.8H502.71V148.3H503.00V148.3H503.28V148.9H503.57V149.5H503.85V148.3H504.14V148.5H504.42V150.7H504.70V151.0H504.99V150.6H505.27V152.0H505.56V152.6H505.84V152.6H506.13V153.0H506.41V152.5H506.70V155.4H506.98V153.6H507.27V153.4H507.55V155.3H507.84V155.9H508.12V154.8H508.41V155.7H508.69V156.8H508.98V158.5H509.26V157.0H509.55V156.3H509.83V158.6H510.12V159.1H510.40V159.8H510.69V159.4H510.97V158.9H511.26V160.5H511.54V161.1H511.82V158.7H512.11V160.6H512.39V162.0H512.68V160.9H512.96V161.8H513.25V162.0H513.53V162.6H513.82V164.4H514.10V162.8H514.39V162.5H514.67V164.7H514.96V165.5H515.24V165.3H515.53V167.0H515.81V167.3H516.10V166.9H516.38V166.3H516.67V167.0H516.95V169.2H517.24V169.7H517.52V168.9H517.81V168.7H518.09V169.1H518.38V170.4H518.66V171.0H518.94V170.5H519.23V172.6H519.51V172.3H519.80V174.6H520.08V173.9H520.37V175.0H520.65V173.0H520.94V173.7H521.22V173.4H521.51V173.7H521.79V176.4H522.08V173.7H522.36V174.6H522.65V177.5H522.93V174.7H523.22V178.4H523.50V178.1H523.79V178.6H524.07V177.8H524.36V178.6H524.64V181.2H524.93V180.7H525.21V180.4H525.50V176.7H525.78V178.4H526.06V182.1H526.35V183.9H526.63V181.7H526.92V184.0H527.20V184.1H527.49V183.8H527.77V185.0H528.06V184.0H528.34V187.1H528.63V187.5H528.91V184.0H529.20V185.6H529.48V188.9H529.77V189.6H530.05V188.0H530.34V187.4H530.62V188.3H530.91V187.2H531.19V189.0H531.48V191.8H531.76V187.5H532.05V189.1H532.33V189.7H532.62V188.8H532.90V195.5H533.18V193.4H533.47V193.6H533.75V190.4H534.04V196.5H534.32V194.8H534.61V191.1H534.89V192.9H535.18V196.4H535.46V191.8H535.75V198.4H536.03V194.7H536.32V197.6H536.60V196.1H536.89V197.7H537.17V198.9H537.46V198.2H537.74V201.4H538.03V197.6H538.31V200.0H538.60V197.4H538.88V201.1H539.17V202.0H539.45V199.7H539.74V197.9H540.02V207.0H540.30V201.5H540.59V200.5H540.87V206.7H541.16V205.6H541.44V201.6H541.73V206.7H542.01V206.7H542.30V199.5H542.58V208.9H542.87V209.3H543.15V215.1H543.44V211.4H543.72V212.5H544.01V201.8H544.29V204.0H544.58V214.3H544.86V201.6H545.15V206.9H545.43V211.3H545.72V207.4H546.00V209.7H546.29V215.2H546.57V220.2H546.86V216.8H547.14V213.1H547.42V215.2H547.71V217.5H547.99V209.4H548.28V220.1H548.56V210.5H548.85V218.0H549.13V215.3H549.42V222.3H549.70V216.8H549.99V221.4H550.27V227.3H550.56V218.0H550.84V218.6H551.13V213.9H551.41V217.5H551.70V225.7H551.98V223.7H552.27V234.4H552.55V227.8H552.84V212.9H553.12V212.6H553.41V217.0H553.69V220.4H553.98V218.9H554.26V219.9H554.54V235.7H554.83V230.2H555.11V216.0H555.40V216.4H555.68V223.6H555.97V228.1H556.25V229.1H556.54V230.8H556.82V234.3H557.11V241.6H557.39V226.8H557.68V232.1H557.96V230.7H558.25V220.4H558.53V224.8H558.82V236.3H559.10V225.8H559.39V244.6H559.67V222.9H559.96V230.0H560.24V234.7H560.53V228.0H560.81V225.0H561.10V238.9H561.38V244.7H561.66V226.5H561.95V235.8H562.23V227.4H562.52V243.8H562.80V233.2H563.09V244.4H563.37V231.3H563.66V241.5H563.94V246.2H564.23V230.4H564.51V235.9H564.80V254.2H565.08V243.2H565.37V251.6H565.65V255.4H565.94V248.6H566.22V247.7H566.51V241.8H566.79V252.0H567.08V256.8H567.36V249.5H567.65V234.2H567.93V257.5H568.22V236.0H568.50V238.2H568.78V249.8H569.07V400.0H569.35V254.1H569.64V400.0H569.92V258.2H570.21V239.3H570.49V236.6H570.78V254.7H571.06V237.1H571.35V259.4H571.63V258.3H571.92V259.4H572.20V237.9H572.49V255.0H572.77V238.2H573.06V400.0H573.34V245.9H573.63V239.9H573.91V248.3H574.20V259.4H574.48V400.0H574.77V239.2H575.05V239.4H575.34V242.9H575.62V259.4H575.90V251.7H576.19V239.9H576.47V259.4H576.76V241.1H577.04V256.2H577.33V400.0H577.61V240.6H577.90V259.4H578.18V240.9H578.47V400.0H578.75V245.2H579.04V259.4H579.32V249.6H579.61V254.6H579.89V400.0H580.18V259.4H580.46V400.0H580.75V252.4H581.03V259.4H581.32H581.60V400.0H581.89V252.5H582.17V242.6H582.46V259.4H582.74V242.8H583.02V256.6H583.31V259.4H583.59V400.0H583.88V243.2H584.16V243.7H584.45V243.4H584.73V259.4H585.02V400.0H585.30V259.4H585.59H585.87V400.0H586.16H586.44V244.1H586.73V246.4H587.01V244.3H587.30V251.3H587.58V400.0H587.87V251.7H588.15V400.0H588.44V245.7H588.72V400.0H589.01V255.0H589.29V400.0H589.58V259.4H589.86V400.0H590.14V248.1H590.43V400.0H590.71H591.00H591.28H591.57V257.4H591.85V258.0H592.14V258.2H592.42V400.0H592.71H592.99V257.1H593.28V400.0H593.56H593.85V257.1H594.13V400.0H594.42V257.7H594.70V400.0H594.99V257.0H595.27V400.0H595.56V257.5H595.84V400.0H596.13V258.5H596.41V400.0H596.70V257.5H596.98V258.6H597.26V400.0H597.55H597.83H598.12V258.9H598.40V400.0H598.69V243.5H598.97V257.1H599.26V400.0H599.54H599.83H600.11H600.40H600.68H600.97H601.25H601.54V258.1H601.82V257.2H602.11V400.0H602.39V258.8H602.68V400.0H602.96H603.25H603.53V257.1H603.82V400.0H604.10H604.38H604.67H604.95H605.24H605.52H605.81H606.09H606.38H606.66H606.95H607.23H607.52H607.80H608.09H608.37H608.66H608.94H609.23H609.51H609.80H610.08H610.37H610.65H610.94H611.22H611.50H611.79H612.07H612.36H612.64H612.93H613.21H613.50H613.78H614.07H614.35H614.64H614.92H615.21H615.49H615.78H616.06H616.35H616.63H616.92H617.20H617.49H617.77H618.06H618.34H618.62H618.91H619.19H619.48H619.76H620.05H620.33H620.62H620.90H621.19H621.47H621.76H622.04H622.33H622.61H622.90H623.18H623.47H623.75H624.04H624.32H624.61H624.89H625.18H625.46H625.74H626.03H626.31H626.60H626.88H627.17H627.45H627.74H628.02H628.31H628.59H628.88H629.16H629.45H629.73H630.02H630.30H630.59H630.87H631.16H631.44H631.73H632.01H632.30H632.58H632.86H633.15H633.43H633.72H634.00H634.29H634.57H634.86H635.14H635.43H635.71H636.00H636.28H636.57H636.85H637.14H637.42H637.71H637.99H638.28H638.56H638.85H639.13H639.42H639.70H639.98H640.27H640.55H640.84H641.12H641.41H641.69H641.98H642.26H642.55H642.83H643.12H643.40H643.69H643.97H644.26H644.54H644.83H645.11H645.40H645.68H645.97H646.25H646.54H646.82H647.10H647.39H647.67H647.96H648.24H648.53H648.81H649.10H649.38H649.67H649.95H650.24H650.52H650.81H651.09H651.38H651.66H651.95H652.23H652.52H652.80H653.09H653.37H653.66H653.94H654.22H654.51H654.79H655.08H655.36H655.65H655.93H656.22H656.50H656.79H657.07H657.36H657.64H657.93H658.21H658.50H658.78H659.07H659.35H659.64H659.92H660.21H660.49H660.78H661.06H661.34H661.63H661.91H662.20H662.48H662.77H663.05H663.34H663.62H663.91H664.19H664.48H664.76H665.05H665.33H665.62H665.90H666.19H666.47H666.76H667.04H667.33H667.61H667.90H668.18H668.46H668.75H669.03H669.32H669.60H669.89H670.17H670.46H670.74H671.03H671.31H671.60H671.88H672.17H672.45H672.74H673.02H673.31H673.59H673.88H674.16H674.45H674.73H675.02H675.30"/></g><g clip-path="url(#cr)" stroke="#d62728" stroke-opacity="0.85" fill="none" stroke-width="0.95"><path d="M390.50 400.0H390.78H391.07H391.35H391.64H391.92H392.21H392.49H392.78H393.06H393.35H393.63H393.92H394.20H394.49H394.77H395.06H395.34H395.63H395.91H396.20H396.48V257.1H396.77V400.0H397.05H397.34V244.9H397.62V251.7H397.90V259.4H398.19V400.0H398.47V259.4H398.76V241.5H399.04V248.4H399.33V253.3H399.61V243.9H399.90V247.8H400.18V259.4H400.47V248.4H400.75V236.5H401.04V238.4H401.32V235.3H401.61V252.1H401.89V257.2H402.18V251.2H402.46V233.3H402.75V253.7H403.03V250.7H403.32V231.9H403.60V243.3H403.89V242.2H404.17V235.1H404.46V237.8H404.74V241.5H405.02V235.0H405.31V244.6H405.59V237.1H405.88V229.4H406.16V246.5H406.45V237.4H406.73V246.2H407.02V227.1H407.30V228.0H407.59V224.4H407.87V223.6H408.16V222.9H408.44V224.9H408.73V237.4H409.01V221.8H409.30V236.6H409.58V219.2H409.87V225.1H410.15V222.0H410.44V235.0H410.72V216.9H411.01V215.5H411.29V233.5H411.58V225.5H411.86V223.8H412.14V223.7H412.43V210.5H412.71V208.7H413.00V222.5H413.28V210.0H413.57V215.6H413.85V206.5H414.14V222.9H414.42V212.4H414.71V204.3H414.99V211.4H415.28V203.1H415.56V208.6H415.85V201.9H416.13V203.1H416.42V205.5H416.70V205.7H416.99V203.0H417.27V198.5H417.56V200.9H417.84V201.8H418.13V191.4H418.41V202.0H418.70V199.4H418.98V194.6H419.26V197.9H419.55V195.8H419.83V196.6H420.12V195.6H420.40V191.8H420.69V194.9H420.97V194.2H421.26V187.6H421.54V191.8H421.83V188.7H422.11V187.7H422.40V185.4H422.68V186.3H422.97V187.5H423.25V189.5H423.54V183.2H423.82V182.8H424.11V184.2H424.39V185.0H424.68V178.1H424.96V180.8H425.25V178.7H425.53V180.0H425.82V178.2H426.10V174.0H426.38V175.2H426.67V175.3H426.95V174.7H427.24V173.2H427.52V172.7H427.81V173.9H428.09V168.3H428.38V172.3H428.66V169.4H428.95V172.2H429.23V169.1H429.52V168.8H429.80V166.9H430.09V168.2H430.37V165.6H430.66V165.8H430.94V166.3H431.23V165.8H431.51V163.5H431.80V162.9H432.08V162.9H432.37V164.8H432.65V160.9H432.94V159.3H433.22V160.7H433.50V160.4H433.79V159.2H434.07V159.2H434.36V158.7H434.64V159.8H434.93V157.1H435.21V158.3H435.50V156.7H435.78V158.2H436.07V154.9H436.35V154.6H436.64V156.6H436.92V154.8H437.21V154.1H437.49V152.9H437.78V154.2H438.06V154.0H438.35V152.4H438.63V151.3H438.92V153.6H439.20V151.7H439.49V150.7H439.77V151.1H440.06V151.0H440.34V150.2H440.62V148.8H440.91V148.3H441.19V149.8H441.48V150.6H441.76V148.1H442.05V147.9H442.33V148.0H442.62V147.0H442.90V144.6H443.19V145.7H443.47V147.0H443.76V145.3H444.04V144.8H444.33V144.4H444.61V144.0H444.90V144.2H445.18V143.2H445.47V143.0H445.75V142.8H446.04V142.8H446.32V141.4H446.61V144.2H446.89V143.0H447.18V142.9H447.46V141.5H447.74V141.8H448.03V141.5H448.31V142.7H448.60V141.5H448.88V141.0H449.17V141.4H449.45V141.6H449.74V140.6H450.02V139.9H450.31V141.9H450.59V139.9H450.88V140.0H451.16V140.6H451.45V139.8H451.73V140.2H452.02V139.0H452.30V140.0H452.59V139.1H452.87V140.1H453.16V138.9H453.44V138.7H453.73V139.1H454.01V138.7H454.30V138.9H454.58V138.1H454.86V138.9H455.15V139.0H455.43V138.3H455.72V138.2H456.00V138.6H456.29V137.8H456.57V137.9H456.86V137.5H457.14V138.6H457.43V138.5H457.71V137.6H458.00V137.9H458.28V137.5H458.57V137.2H458.85V136.7H459.14V136.5H459.42V136.8H459.71V137.5H459.99V136.7H460.28V137.3H460.56V136.7H460.85V137.5H461.13V136.2H461.42V136.6H461.70V136.9H461.98V137.5H462.27V136.5H462.55V136.9H462.84V136.5H463.12V136.9H463.41V136.8H463.69V136.2H463.98V135.8H464.26V137.1H464.55V136.5H464.83V136.2H465.12V136.5H465.40V136.6H465.69V135.3H465.97V136.7H466.26V136.2H466.54V136.6H466.83V136.3H467.11V137.3H467.40V135.8H467.68V136.3H467.97V136.6H468.25V135.4H468.54V136.3H468.82V136.5H469.10V136.5H469.39V135.6H469.67V136.1H469.96V136.3H470.24V136.7H470.53V136.5H470.81V135.9H471.10V136.1H471.38V137.0H471.67V136.4H471.95V135.9H472.24V134.8H472.52V136.3H472.81V137.0H473.09V135.6H473.38V136.2H473.66V136.6H473.95V135.7H474.23V136.1H474.52V136.4H474.80V136.5H475.09V136.0H475.37V135.9H475.66V136.8H475.94V135.4H476.22V136.5H476.51V135.2H476.79V135.7H477.08V136.0H477.36V135.7H477.65V136.2H477.93V135.9H478.22V135.2H478.50V136.2H478.79V135.5H479.07V136.3H479.36V136.0H479.64V135.5H479.93V136.5H480.21V135.8H480.50V137.0H480.78V136.6H481.07V136.2H481.35V135.6H481.64V135.7H481.92V136.5H482.21V136.1H482.49V136.0H482.78V136.9H483.06V135.9H483.34V135.5H483.63V135.5H483.91V136.5H484.20V136.5H484.48V136.7H484.77V136.5H485.05V136.5H485.34V136.1H485.62V136.4H485.91V136.9H486.19V136.2H486.48V136.2H486.76V136.9H487.05V136.7H487.33V136.8H487.62V137.5H487.90V136.7H488.19V136.4H488.47V135.9H488.76V136.8H489.04V137.0H489.33V136.9H489.61V136.9H489.90V136.8H490.18V137.6H490.46V137.1H490.75V137.2H491.03V138.5H491.32V136.9H491.60V137.7H491.89V137.5H492.17V138.0H492.46V138.1H492.74V138.0H493.03V138.2H493.31V137.9H493.60V138.5H493.88V138.9H494.17V139.2H494.45V139.3H494.74V138.5H495.02V139.3H495.31V138.6H495.59V139.3H495.88V139.4H496.16V138.7H496.45V140.0H496.73V140.0H497.02V139.4H497.30V139.4H497.58V140.8H497.87V139.0H498.15V140.0H498.44V141.0H498.72V140.9H499.01V140.3H499.29V140.7H499.58V140.4H499.86V140.0H500.15V140.8H500.43V140.2H500.72V140.9H501.00V142.2H501.29V141.0H501.57V142.2H501.86V141.3H502.14V142.1H502.43V142.9H502.71V142.8H503.00V142.5H503.28V142.8H503.57V142.3H503.85V143.0H504.14V142.0H504.42V143.1H504.70V144.0H504.99V143.9H505.27V143.5H505.56V144.5H505.84V144.3H506.13V143.8H506.41V144.1H506.70V144.3H506.98V145.3H507.27V145.4H507.55V145.7H507.84V146.6H508.12V145.8H508.41V145.5H508.69V145.7H508.98V146.2H509.26V145.0H509.55V146.9H509.83V146.4H510.12V147.4H510.40V147.7H510.69V146.3H510.97V147.1H511.26V147.3H511.54V148.8H511.82V146.9H512.11V146.6H512.39V149.6H512.68V149.0H512.96V149.1H513.25V148.6H513.53V150.8H513.82V149.6H514.10V149.5H514.39V150.3H514.67V152.4H514.96V151.4H515.24V151.2H515.53V150.4H515.81V152.3H516.10V152.7H516.38V151.4H516.67V151.6H516.95V152.3H517.24V152.8H517.52V152.1H517.81V152.5H518.09V155.1H518.38V153.7H518.66V153.3H518.94V153.8H519.23V153.7H519.51V155.1H519.80V154.3H520.08V155.7H520.37V156.0H520.65V156.5H520.94V156.8H521.22V157.1H521.51V157.2H521.79V157.0H522.08V157.9H522.36V158.3H522.65V159.4H522.93V158.0H523.22V159.7H523.50V157.7H523.79V161.4H524.07V159.7H524.36V159.4H524.64V158.9H524.93V161.6H525.21V161.9H525.50V162.5H525.78V160.4H526.06V162.5H526.35V162.8H526.63V162.8H526.92V162.2H527.20V163.6H527.49V162.5H527.77V165.7H528.06V162.9H528.34V165.4H528.63V165.0H528.91V165.2H529.20V165.0H529.48V165.6H529.77V166.1H530.05V167.8H530.34V166.4H530.62V167.9H530.91V167.4H531.19V167.7H531.48V167.9H531.76V168.1H532.05V170.4H532.33V166.9H532.62V169.8H532.90V172.0H533.18V170.0H533.47V169.7H533.75V169.5H534.04V170.8H534.32V172.0H534.61V172.4H534.89V172.1H535.18V174.0H535.46V174.7H535.75V172.1H536.03V171.8H536.32V175.1H536.60V175.4H536.89V175.7H537.17V177.2H537.46V177.1H537.74V176.9H538.03V176.3H538.31V177.5H538.60V179.9H538.88V176.5H539.17V175.1H539.45V180.2H539.74V178.9H540.02V177.5H540.30V180.3H540.59V180.6H540.87V180.1H541.16V180.5H541.44V181.1H541.73V177.8H542.01V179.5H542.30V180.7H542.58V181.8H542.87V182.1H543.15V181.8H543.44V183.5H543.72V180.9H544.01V181.2H544.29V185.6H544.58V183.4H544.86V182.1H545.15V183.6H545.43V187.6H545.72V186.5H546.00V186.6H546.29V185.9H546.57V187.5H546.86V188.1H547.14V186.1H547.42V185.2H547.71V190.0H547.99V191.6H548.28V188.3H548.56V189.0H548.85V189.6H549.13V191.7H549.42V189.9H549.70V192.1H549.99V189.8H550.27V188.6H550.56V193.6H550.84V196.7H551.13V194.2H551.41V194.3H551.70V192.8H551.98V193.2H552.27V193.6H552.55V189.1H552.84V195.7H553.12V195.4H553.41V195.0H553.69V199.8H553.98V194.3H554.26V197.2H554.54V200.4H554.83V199.1H555.11V196.2H555.40V195.4H555.68V195.8H555.97V197.4H556.25V200.4H556.54V197.8H556.82V199.6H557.11V193.9H557.39V205.1H557.68V196.1H557.96V198.5H558.25V199.8H558.53V201.4H558.82V203.0H559.10V204.4H559.39V206.5H559.67V196.4H559.96V199.9H560.24V200.9H560.53V202.1H560.81V209.5H561.10V204.7H561.38V203.8H561.66V200.7H561.95V208.1H562.23V204.2H562.52V206.3H562.80V205.6H563.09V208.9H563.37V205.1H563.66V206.4H563.94V214.0H564.23V202.7H564.51V199.2H564.80V211.4H565.08V203.7H565.37V212.6H565.65V211.1H565.94V202.0H566.22V208.7H566.51V203.4H566.79V209.0H567.08V206.1H567.36V211.6H567.65V204.7H567.93V203.3H568.22V208.6H568.50V214.7H568.78V214.1H569.07V217.2H569.35V210.0H569.64V210.6H569.92V216.9H570.21V209.1H570.49V216.9H570.78V205.9H571.06V210.3H571.35V206.5H571.63V218.9H571.92V220.7H572.20V225.6H572.49V212.4H572.77V222.5H573.06V209.0H573.34V216.0H573.63V212.7H573.91V224.8H574.20V221.2H574.48V216.9H574.77V213.8H575.05V226.4H575.34V216.8H575.62V224.3H575.90V214.4H576.19V221.2H576.47V221.9H576.76V217.5H577.04V213.1H577.33V222.5H577.61V213.1H577.90V228.1H578.18V219.8H578.47V229.6H578.75V220.8H579.04V228.9H579.32V222.5H579.61V218.7H579.89V230.3H580.18V236.3H580.46V225.2H580.75V220.3H581.03V222.7H581.32V231.5H581.60V218.6H581.89V227.4H582.17V219.5H582.46V232.4H582.74V222.4H583.02V218.1H583.31V231.5H583.59V228.8H583.88V221.8H584.16V222.8H584.45V224.3H584.73V228.4H585.02V240.5H585.30V227.9H585.59V238.9H585.87V227.6H586.16V243.6H586.44V220.9H586.73V221.1H587.01V225.4H587.30V236.8H587.58V232.3H587.87V222.1H588.15V224.3H588.44V236.6H588.72V222.7H589.01V224.3H589.29V226.2H589.58V234.5H589.86V231.5H590.14V238.3H590.43V230.2H590.71V238.4H591.00V224.6H591.28V232.2H591.57V230.8H591.85V229.9H592.14V230.2H592.42V247.5H592.71V225.9H592.99V233.0H593.28V239.7H593.56V244.2H593.85V241.7H594.13V241.3H594.42V235.2H594.70V244.5H594.99V234.7H595.27V234.6H595.56V243.7H595.84V228.9H596.13V238.2H596.41V233.6H596.70V236.3H596.98V239.6H597.26V230.6H597.55V230.6H597.83V239.5H598.12V248.6H598.40V233.0H598.69V254.7H598.97V238.0H599.26V242.2H599.54V236.5H599.83V255.9H600.11V246.1H600.40V253.5H600.68V248.0H600.97V234.6H601.25V244.4H601.54V249.6H601.82V234.7H602.11V242.7H602.39V258.3H602.68V256.6H602.96V238.5H603.25V238.4H603.53V241.5H603.82V241.2H604.10V256.6H604.38V246.4H604.67V259.4H604.95V256.8H605.24V258.2H605.52V257.6H605.81V251.2H606.09V250.0H606.38V258.2H606.66V239.3H606.95V254.0H607.23V239.6H607.52V239.8H607.80V259.4H608.09V240.2H608.37V259.4H608.66V240.6H608.94V244.6H609.23V259.4H609.51V400.0H609.80V255.7H610.08V259.4H610.37V241.7H610.65V400.0H610.94V254.2H611.22V243.8H611.50V400.0H611.79V247.6H612.07V255.5H612.36V400.0H612.64V259.4H612.93V400.0H613.21H613.50H613.78V259.4H614.07V256.2H614.35V400.0H614.64V244.4H614.92V400.0H615.21V259.4H615.49H615.78V245.0H616.06V400.0H616.35V245.2H616.63V259.4H616.92V400.0H617.20V253.0H617.49V400.0H617.77V244.3H618.06V257.9H618.34V400.0H618.62H618.91H619.19V244.1H619.48V257.0H619.76V258.7H620.05V400.0H620.33H620.62H620.90H621.19H621.47H621.76H622.04V258.8H622.33V258.4H622.61V258.2H622.90V400.0H623.18H623.47H623.75V258.5H624.04V400.0H624.32H624.61V257.7H624.89V257.1H625.18V400.0H625.46V257.4H625.74V400.0H626.03V244.7H626.31V259.0H626.60V400.0H626.88H627.17H627.45H627.74V257.7H628.02V258.8H628.31V400.0H628.59V258.1H628.88V400.0H629.16V257.8H629.45V400.0H629.73V257.0H630.02V400.0H630.30H630.59H630.87H631.16H631.44H631.73H632.01H632.30H632.58H632.86H633.15H633.43H633.72H634.00H634.29H634.57H634.86H635.14V258.7H635.43V258.5H635.71V400.0H636.00H636.28H636.57H636.85H637.14H637.42H637.71H637.99H638.28H638.56H638.85H639.13H639.42H639.70H639.98H640.27H640.55H640.84H641.12H641.41H641.69H641.98H642.26H642.55H642.83H643.12H643.40H643.69H643.97H644.26H644.54H644.83H645.11H645.40H645.68H645.97V258.9H646.25V400.0H646.54V258.0H646.82V400.0H647.10H647.39H647.67H647.96H648.24H648.53V258.5H648.81V400.0H649.10V258.6H649.38V400.0H649.67H649.95H650.24H650.52H650.81H651.09V243.9H651.38V400.0H651.66V257.2H651.95V400.0H652.23H652.52H652.80V258.3H653.09V400.0H653.37H653.66H653.94H654.22H654.51H654.79H655.08H655.36H655.65H655.93H656.22H656.50H656.79V258.5H657.07V400.0H657.36H657.64H657.93H658.21H658.50H658.78H659.07H659.35V257.6H659.64V400.0H659.92H660.21H660.49V257.1H660.78V400.0H661.06H661.34H661.63H661.91H662.20H662.48H662.77H663.05H663.34H663.62H663.91H664.19H664.48H664.76H665.05H665.33H665.62H665.90H666.19H666.47H666.76H667.04H667.33H667.61H667.90H668.18H668.46H668.75H669.03H669.32H669.60H669.89H670.17H670.46H670.74H671.03H671.31H671.60H671.88H672.17H672.45H672.74H673.02H673.31H673.59H673.88H674.16H674.45H674.73H675.02H675.30"/></g><path d="M36.50 282.55h6.0M321.20 282.55h-6.0M36.50 236.52h6.0M321.20 236.52h-6.0M36.50 190.49h6.0M321.20 190.49h-6.0M36.50 144.46h6.0M321.20 144.46h-6.0M36.50 98.43h6.0M321.20 98.43h-6.0M36.50 52.40h6.0M321.20 52.40h-6.0M36.50 6.37h6.0M321.20 6.37h-6.0M36.50 282.60v-6.0M36.50 5.40v6.0M72.45 282.60v-6.0M72.45 5.40v6.0M108.39 282.60v-6.0M108.39 5.40v6.0M144.34 282.60v-6.0M144.34 5.40v6.0M180.29 282.60v-6.0M180.29 5.40v6.0M216.23 282.60v-6.0M216.23 5.40v6.0M252.18 282.60v-6.0M252.18 5.40v6.0M288.13 282.60v-6.0M288.13 5.40v6.0" stroke="#000" stroke-width="0.65" fill="none"/><path d="M36.50 268.69h3.2M321.20 268.69h-3.2M36.50 260.59h3.2M321.20 260.59h-3.2M36.50 254.84h3.2M321.20 254.84h-3.2M36.50 250.38h3.2M321.20 250.38h-3.2M36.50 246.73h3.2M321.20 246.73h-3.2M36.50 243.65h3.2M321.20 243.65h-3.2M36.50 240.98h3.2M321.20 240.98h-3.2M36.50 238.63h3.2M321.20 238.63h-3.2M36.50 222.66h3.2M321.20 222.66h-3.2M36.50 214.56h3.2M321.20 214.56h-3.2M36.50 208.81h3.2M321.20 208.81h-3.2M36.50 204.35h3.2M321.20 204.35h-3.2M36.50 200.70h3.2M321.20 200.70h-3.2M36.50 197.62h3.2M321.20 197.62h-3.2M36.50 194.95h3.2M321.20 194.95h-3.2M36.50 192.60h3.2M321.20 192.60h-3.2M36.50 176.63h3.2M321.20 176.63h-3.2M36.50 168.53h3.2M321.20 168.53h-3.2M36.50 162.78h3.2M321.20 162.78h-3.2M36.50 158.32h3.2M321.20 158.32h-3.2M36.50 154.67h3.2M321.20 154.67h-3.2M36.50 151.59h3.2M321.20 151.59h-3.2M36.50 148.92h3.2M321.20 148.92h-3.2M36.50 146.57h3.2M321.20 146.57h-3.2M36.50 130.60h3.2M321.20 130.60h-3.2M36.50 122.50h3.2M321.20 122.50h-3.2M36.50 116.75h3.2M321.20 116.75h-3.2M36.50 112.29h3.2M321.20 112.29h-3.2M36.50 108.64h3.2M321.20 108.64h-3.2M36.50 105.56h3.2M321.20 105.56h-3.2M36.50 102.89h3.2M321.20 102.89h-3.2M36.50 100.54h3.2M321.20 100.54h-3.2M36.50 84.57h3.2M321.20 84.57h-3.2M36.50 76.47h3.2M321.20 76.47h-3.2M36.50 70.72h3.2M321.20 70.72h-3.2M36.50 66.26h3.2M321.20 66.26h-3.2M36.50 62.61h3.2M321.20 62.61h-3.2M36.50 59.53h3.2M321.20 59.53h-3.2M36.50 56.86h3.2M321.20 56.86h-3.2M36.50 54.51h3.2M321.20 54.51h-3.2M36.50 38.54h3.2M321.20 38.54h-3.2M36.50 30.44h3.2M321.20 30.44h-3.2M36.50 24.69h3.2M321.20 24.69h-3.2M36.50 20.23h3.2M321.20 20.23h-3.2M36.50 16.58h3.2M321.20 16.58h-3.2M36.50 13.50h3.2M321.20 13.50h-3.2M36.50 10.83h3.2M321.20 10.83h-3.2M36.50 8.48h3.2M321.20 8.48h-3.2M43.69 282.60v-3.2M43.69 5.40v3.2M50.88 282.60v-3.2M50.88 5.40v3.2M58.07 282.60v-3.2M58.07 5.40v3.2M65.26 282.60v-3.2M65.26 5.40v3.2M79.64 282.60v-3.2M79.64 5.40v3.2M86.83 282.60v-3.2M86.83 5.40v3.2M94.02 282.60v-3.2M94.02 5.40v3.2M101.20 282.60v-3.2M101.20 5.40v3.2M115.58 282.60v-3.2M115.58 5.40v3.2M122.77 282.60v-3.2M122.77 5.40v3.2M129.96 282.60v-3.2M129.96 5.40v3.2M137.15 282.60v-3.2M137.15 5.40v3.2M151.53 282.60v-3.2M151.53 5.40v3.2M158.72 282.60v-3.2M158.72 5.40v3.2M165.91 282.60v-3.2M165.91 5.40v3.2M173.10 282.60v-3.2M173.10 5.40v3.2M187.48 282.60v-3.2M187.48 5.40v3.2M194.67 282.60v-3.2M194.67 5.40v3.2M201.86 282.60v-3.2M201.86 5.40v3.2M209.05 282.60v-3.2M209.05 5.40v3.2M223.42 282.60v-3.2M223.42 5.40v3.2M230.61 282.60v-3.2M230.61 5.40v3.2M237.80 282.60v-3.2M237.80 5.40v3.2M244.99 282.60v-3.2M244.99 5.40v3.2M259.37 282.60v-3.2M259.37 5.40v3.2M266.56 282.60v-3.2M266.56 5.40v3.2M273.75 282.60v-3.2M273.75 5.40v3.2M280.94 282.60v-3.2M280.94 5.40v3.2M295.32 282.60v-3.2M295.32 5.40v3.2M302.51 282.60v-3.2M302.51 5.40v3.2M309.70 282.60v-3.2M309.70 5.40v3.2M316.89 282.60v-3.2M316.89 5.40v3.2" stroke="#000" stroke-width="0.5" fill="none"/><path d="M390.50 282.55h6.0M675.30 282.55h-6.0M390.50 236.52h6.0M675.30 236.52h-6.0M390.50 190.49h6.0M675.30 190.49h-6.0M390.50 144.46h6.0M675.30 144.46h-6.0M390.50 98.43h6.0M675.30 98.43h-6.0M390.50 52.40h6.0M675.30 52.40h-6.0M390.50 6.37h6.0M675.30 6.37h-6.0M390.50 282.50v-6.0M390.50 5.40v6.0M447.46 282.50v-6.0M447.46 5.40v6.0M504.42 282.50v-6.0M504.42 5.40v6.0M561.38 282.50v-6.0M561.38 5.40v6.0M618.34 282.50v-6.0M618.34 5.40v6.0M675.30 282.50v-6.0M675.30 5.40v6.0" stroke="#000" stroke-width="0.65" fill="none"/><path d="M390.50 268.69h3.2M675.30 268.69h-3.2M390.50 260.59h3.2M675.30 260.59h-3.2M390.50 254.84h3.2M675.30 254.84h-3.2M390.50 250.38h3.2M675.30 250.38h-3.2M390.50 246.73h3.2M675.30 246.73h-3.2M390.50 243.65h3.2M675.30 243.65h-3.2M390.50 240.98h3.2M675.30 240.98h-3.2M390.50 238.63h3.2M675.30 238.63h-3.2M390.50 222.66h3.2M675.30 222.66h-3.2M390.50 214.56h3.2M675.30 214.56h-3.2M390.50 208.81h3.2M675.30 208.81h-3.2M390.50 204.35h3.2M675.30 204.35h-3.2M390.50 200.70h3.2M675.30 200.70h-3.2M390.50 197.62h3.2M675.30 197.62h-3.2M390.50 194.95h3.2M675.30 194.95h-3.2M390.50 192.60h3.2M675.30 192.60h-3.2M390.50 176.63h3.2M675.30 176.63h-3.2M390.50 168.53h3.2M675.30 168.53h-3.2M390.50 162.78h3.2M675.30 162.78h-3.2M390.50 158.32h3.2M675.30 158.32h-3.2M390.50 154.67h3.2M675.30 154.67h-3.2M390.50 151.59h3.2M675.30 151.59h-3.2M390.50 148.92h3.2M675.30 148.92h-3.2M390.50 146.57h3.2M675.30 146.57h-3.2M390.50 130.60h3.2M675.30 130.60h-3.2M390.50 122.50h3.2M675.30 122.50h-3.2M390.50 116.75h3.2M675.30 116.75h-3.2M390.50 112.29h3.2M675.30 112.29h-3.2M390.50 108.64h3.2M675.30 108.64h-3.2M390.50 105.56h3.2M675.30 105.56h-3.2M390.50 102.89h3.2M675.30 102.89h-3.2M390.50 100.54h3.2M675.30 100.54h-3.2M390.50 84.57h3.2M675.30 84.57h-3.2M390.50 76.47h3.2M675.30 76.47h-3.2M390.50 70.72h3.2M675.30 70.72h-3.2M390.50 66.26h3.2M675.30 66.26h-3.2M390.50 62.61h3.2M675.30 62.61h-3.2M390.50 59.53h3.2M675.30 59.53h-3.2M390.50 56.86h3.2M675.30 56.86h-3.2M390.50 54.51h3.2M675.30 54.51h-3.2M390.50 38.54h3.2M675.30 38.54h-3.2M390.50 30.44h3.2M675.30 30.44h-3.2M390.50 24.69h3.2M675.30 24.69h-3.2M390.50 20.23h3.2M675.30 20.23h-3.2M390.50 16.58h3.2M675.30 16.58h-3.2M390.50 13.50h3.2M675.30 13.50h-3.2M390.50 10.83h3.2M675.30 10.83h-3.2M390.50 8.48h3.2M675.30 8.48h-3.2M404.74 282.50v-3.2M404.74 5.40v3.2M418.98 282.50v-3.2M418.98 5.40v3.2M433.22 282.50v-3.2M433.22 5.40v3.2M461.70 282.50v-3.2M461.70 5.40v3.2M475.94 282.50v-3.2M475.94 5.40v3.2M490.18 282.50v-3.2M490.18 5.40v3.2M518.66 282.50v-3.2M518.66 5.40v3.2M532.90 282.50v-3.2M532.90 5.40v3.2M547.14 282.50v-3.2M547.14 5.40v3.2M575.62 282.50v-3.2M575.62 5.40v3.2M589.86 282.50v-3.2M589.86 5.40v3.2M604.10 282.50v-3.2M604.10 5.40v3.2M632.58 282.50v-3.2M632.58 5.40v3.2M646.82 282.50v-3.2M646.82 5.40v3.2M661.06 282.50v-3.2M661.06 5.40v3.2" stroke="#000" stroke-width="0.5" fill="none"/><text transform="translate(34.50,282.65) scale(0.88,1)" x="0" y="0" font-family="Liberation Serif" font-size="8.4" text-anchor="end" fill="#000" stroke="#000" stroke-width="0.12">5</text><path d="M25.30 280.75h4.5" stroke="#000" stroke-width="0.8"/><text transform="translate(24.90,286.35) scale(0.85,1)" x="0" y="0" font-family="Liberation Serif" font-size="12.5" text-anchor="end" fill="#000" stroke="#000" stroke-width="0.15">10</text><text transform="translate(34.50,236.62) scale(0.88,1)" x="0" y="0" font-family="Liberation Serif" font-size="8.4" text-anchor="end" fill="#000" stroke="#000" stroke-width="0.12">4</text><path d="M25.30 234.72h4.5" stroke="#000" stroke-width="0.8"/><text transform="translate(24.90,240.32) scale(0.85,1)" x="0" y="0" font-family="Liberation Serif" font-size="12.5" text-anchor="end" fill="#000" stroke="#000" stroke-width="0.15">10</text><text transform="translate(34.50,190.59) scale(0.88,1)" x="0" y="0" font-family="Liberation Serif" font-size="8.4" text-anchor="end" fill="#000" stroke="#000" stroke-width="0.12">3</text><path d="M25.30 188.69h4.5" stroke="#000" stroke-width="0.8"/><text transform="translate(24.90,194.29) scale(0.85,1)" x="0" y="0" font-family="Liberation Serif" font-size="12.5" text-anchor="end" fill="#000" stroke="#000" stroke-width="0.15">10</text><text transform="translate(34.50,144.56) scale(0.88,1)" x="0" y="0" font-family="Liberation Serif" font-size="8.4" text-anchor="end" fill="#000" stroke="#000" stroke-width="0.12">2</text><path d="M25.30 142.66h4.5" stroke="#000" stroke-width="0.8"/><text transform="translate(24.90,148.26) scale(0.85,1)" x="0" y="0" font-family="Liberation Serif" font-size="12.5" text-anchor="end" fill="#000" stroke="#000" stroke-width="0.15">10</text><text transform="translate(34.50,98.53) scale(0.88,1)" x="0" y="0" font-family="Liberation Serif" font-size="8.4" text-anchor="end" fill="#000" stroke="#000" stroke-width="0.12">1</text><path d="M25.30 96.63h4.5" stroke="#000" stroke-width="0.8"/><text transform="translate(24.90,102.23) scale(0.85,1)" x="0" y="0" font-family="Liberation Serif" font-size="12.5" text-anchor="end" fill="#000" stroke="#000" stroke-width="0.15">10</text><text transform="translate(34.50,52.50) scale(0.88,1)" x="0" y="0" font-family="Liberation Serif" font-size="8.4" text-anchor="end" fill="#000" stroke="#000" stroke-width="0.12">0</text><text transform="translate(30.30,56.20) scale(0.85,1)" x="0" y="0" font-family="Liberation Serif" font-size="12.5" text-anchor="end" fill="#000" stroke="#000" stroke-width="0.15">10</text><text transform="translate(34.50,6.47) scale(0.88,1)" x="0" y="0" font-family="Liberation Serif" font-size="8.4" text-anchor="end" fill="#000" stroke="#000" stroke-width="0.12">1</text><text transform="translate(30.30,10.17) scale(0.85,1)" x="0" y="0" font-family="Liberation Serif" font-size="12.5" text-anchor="end" fill="#000" stroke="#000" stroke-width="0.15">10</text><text transform="translate(388.50,282.65) scale(0.88,1)" x="0" y="0" font-family="Liberation Serif" font-size="8.4" text-anchor="end" fill="#000" stroke="#000" stroke-width="0.12">5</text><path d="M379.30 280.75h4.5" stroke="#000" stroke-width="0.8"/><text transform="translate(378.90,286.35) scale(0.85,1)" x="0" y="0" font-family="Liberation Serif" font-size="12.5" text-anchor="end" fill="#000" stroke="#000" stroke-width="0.15">10</text><text transform="translate(388.50,236.62) scale(0.88,1)" x="0" y="0" font-family="Liberation Serif" font-size="8.4" text-anchor="end" fill="#000" stroke="#000" stroke-width="0.12">4</text><path d="M379.30 234.72h4.5" stroke="#000" stroke-width="0.8"/><text transform="translate(378.90,240.32) scale(0.85,1)" x="0" y="0" font-family="Liberation Serif" font-size="12.5" text-anchor="end" fill="#000" stroke="#000" stroke-width="0.15">10</text><text transform="translate(388.50,190.59) scale(0.88,1)" x="0" y="0" font-family="Liberation Serif" font-size="8.4" text-anchor="end" fill="#000" stroke="#000" stroke-width="0.12">3</text><path d="M379.30 188.69h4.5" stroke="#000" stroke-width="0.8"/><text transform="translate(378.90,194.29) scale(0.85,1)" x="0" y="0" font-family="Liberation Serif" font-size="12.5" text-anchor="end" fill="#000" stroke="#000" stroke-width="0.15">10</text><text transform="translate(388.50,144.56) scale(0.88,1)" x="0" y="0" font-family="Liberation Serif" font-size="8.4" text-anchor="end" fill="#000" stroke="#000" stroke-width="0.12">2</text><path d="M379.30 142.66h4.5" stroke="#000" stroke-width="0.8"/><text transform="translate(378.90,148.26) scale(0.85,1)" x="0" y="0" font-family="Liberation Serif" font-size="12.5" text-anchor="end" fill="#000" stroke="#000" stroke-width="0.15">10</text><text transform="translate(388.50,98.53) scale(0.88,1)" x="0" y="0" font-family="Liberation Serif" font-size="8.4" text-anchor="end" fill="#000" stroke="#000" stroke-width="0.12">1</text><path d="M379.30 96.63h4.5" stroke="#000" stroke-width="0.8"/><text transform="translate(378.90,102.23) scale(0.85,1)" x="0" y="0" font-family="Liberation Serif" font-size="12.5" text-anchor="end" fill="#000" stroke="#000" stroke-width="0.15">10</text><text transform="translate(388.50,52.50) scale(0.88,1)" x="0" y="0" font-family="Liberation Serif" font-size="8.4" text-anchor="end" fill="#000" stroke="#000" stroke-width="0.12">0</text><text transform="translate(384.30,56.20) scale(0.85,1)" x="0" y="0" font-family="Liberation Serif" font-size="12.5" text-anchor="end" fill="#000" stroke="#000" stroke-width="0.15">10</text><text transform="translate(388.50,6.47) scale(0.88,1)" x="0" y="0" font-family="Liberation Serif" font-size="8.4" text-anchor="end" fill="#000" stroke="#000" stroke-width="0.12">1</text><text transform="translate(384.30,10.17) scale(0.85,1)" x="0" y="0" font-family="Liberation Serif" font-size="12.5" text-anchor="end" fill="#000" stroke="#000" stroke-width="0.15">10</text><text transform="translate(36.10,293.7) scale(0.84,1)" x="0" y="0" font-family="Liberation Serif" font-size="12.4" text-anchor="middle" fill="#000" stroke="#000" stroke-width="0.15">0</text><text transform="translate(72.05,293.7) scale(0.84,1)" x="0" y="0" font-family="Liberation Serif" font-size="12.4" text-anchor="middle" fill="#000" stroke="#000" stroke-width="0.15">250</text><text transform="translate(107.99,293.7) scale(0.84,1)" x="0" y="0" font-family="Liberation Serif" font-size="12.4" text-anchor="middle" fill="#000" stroke="#000" stroke-width="0.15">500</text><text transform="translate(143.94,293.7) scale(0.84,1)" x="0" y="0" font-family="Liberation Serif" font-size="12.4" text-anchor="middle" fill="#000" stroke="#000" stroke-width="0.15">750</text><text transform="translate(179.89,293.7) scale(0.84,1)" x="0" y="0" font-family="Liberation Serif" font-size="12.4" text-anchor="middle" fill="#000" stroke="#000" stroke-width="0.15">1000</text><text transform="translate(215.83,293.7) scale(0.84,1)" x="0" y="0" font-family="Liberation Serif" font-size="12.4" text-anchor="middle" fill="#000" stroke="#000" stroke-width="0.15">1250</text><text transform="translate(251.78,293.7) scale(0.84,1)" x="0" y="0" font-family="Liberation Serif" font-size="12.4" text-anchor="middle" fill="#000" stroke="#000" stroke-width="0.15">1500</text><text transform="translate(287.73,293.7) scale(0.84,1)" x="0" y="0" font-family="Liberation Serif" font-size="12.4" text-anchor="middle" fill="#000" stroke="#000" stroke-width="0.15">1750</text><text transform="translate(390.10,293.7) scale(0.84,1)" x="0" y="0" font-family="Liberation Serif" font-size="12.4" text-anchor="middle" fill="#000" stroke="#000" stroke-width="0.15">0</text><text transform="translate(447.06,293.7) scale(0.84,1)" x="0" y="0" font-family="Liberation Serif" font-size="12.4" text-anchor="middle" fill="#000" stroke="#000" stroke-width="0.15">200</text><text transform="translate(504.02,293.7) scale(0.84,1)" x="0" y="0" font-family="Liberation Serif" font-size="12.4" text-anchor="middle" fill="#000" stroke="#000" stroke-width="0.15">400</text><text transform="translate(560.98,293.7) scale(0.84,1)" x="0" y="0" font-family="Liberation Serif" font-size="12.4" text-anchor="middle" fill="#000" stroke="#000" stroke-width="0.15">600</text><text transform="translate(617.94,293.7) scale(0.84,1)" x="0" y="0" font-family="Liberation Serif" font-size="12.4" text-anchor="middle" fill="#000" stroke="#000" stroke-width="0.15">800</text><text transform="translate(674.90,293.7) scale(0.84,1)" x="0" y="0" font-family="Liberation Serif" font-size="12.4" text-anchor="middle" fill="#000" stroke="#000" stroke-width="0.15">1000</text><text transform="translate(10.4,6.5) rotate(-90)" font-family="Liberation Sans" stroke="#000" stroke-width="0.3" font-size="13.2" text-anchor="end" fill="#000">Normalized Events</text><text transform="translate(363.9,6.5) rotate(-90)" font-family="Liberation Sans" stroke="#000" stroke-width="0.3" font-size="13.2" text-anchor="end" fill="#000">Normalized Events</text><text x="319.2" y="306.6" font-family="Liberation Sans" stroke="#000" stroke-width="0.25" font-size="12.5" text-anchor="end" fill="#000">[GeV]</text><text transform="translate(265.6,306.4) scale(1.0,1)" font-family="Liberation Serif" font-style="italic" font-size="14.6" fill="#000" stroke="#000" stroke-width="0.1">H</text><text x="276.2" y="309.0" font-family="Liberation Serif" font-style="italic" font-size="10.5" fill="#000" stroke="#000" stroke-width="0.1">T</text><text transform="translate(639.8,306.6) scale(1.06,1)" font-family="Liberation Serif" font-style="italic" font-size="15" fill="#000" stroke="#000" stroke-width="0.1">N</text><text x="649.8" y="308.8" font-family="Liberation Serif" font-style="italic" font-size="10.5" letter-spacing="0.3" fill="#000" stroke="#000" stroke-width="0.1">tracks</text><path d="M187.20 20.70h17.7" stroke="#1f77b4" stroke-width="1.5" stroke-opacity="0.6"/><text x="212.80" y="24.60" font-family="Liberation Sans" stroke="#000" stroke-width="0.15" font-size="11.2" fill="#000">GF:</text><text transform="translate(234.60,24.60) scale(1.1,1)" font-family="Liberation Serif" font-style="italic" font-size="12.4" fill="#000">M</text><text x="245.00" y="26.50" font-family="Liberation Serif" font-style="italic" font-size="8.6" fill="#000" stroke="#000" stroke-width="0.1">S</text><path d="M254.10 20.50h7.1M254.10 22.60h7.1" stroke="#222" stroke-width="0.75"/><text transform="translate(264.20,24.60) scale(0.88,1)" font-family="Liberation Serif" font-size="11.8" fill="#000">125</text><text x="282.60" y="24.60" font-family="Liberation Sans" stroke="#000" stroke-width="0.15" font-size="11.2" fill="#000">GeV</text><path d="M187.20 36.45h17.7" stroke="#ff7f0e" stroke-width="1.5" stroke-opacity="0.6"/><text x="212.80" y="40.35" font-family="Liberation Sans" stroke="#000" stroke-width="0.15" font-size="11.2" fill="#000">GF:</text><text transform="translate(234.60,40.35) scale(1.1,1)" font-family="Liberation Serif" font-style="italic" font-size="12.4" fill="#000">M</text><text x="245.00" y="42.25" font-family="Liberation Serif" font-style="italic" font-size="8.6" fill="#000" stroke="#000" stroke-width="0.1">S</text><path d="M254.10 36.25h7.1M254.10 38.35h7.1" stroke="#222" stroke-width="0.75"/><text transform="translate(264.20,40.35) scale(0.88,1)" font-family="Liberation Serif" font-size="11.8" fill="#000">400</text><text x="282.60" y="40.35" font-family="Liberation Sans" stroke="#000" stroke-width="0.15" font-size="11.2" fill="#000">GeV</text><path d="M187.20 52.20h17.7" stroke="#2ca02c" stroke-width="1.5" stroke-opacity="0.6"/><text x="212.80" y="56.10" font-family="Liberation Sans" stroke="#000" stroke-width="0.15" font-size="11.2" fill="#000">GF:</text><text transform="translate(234.60,56.10) scale(1.1,1)" font-family="Liberation Serif" font-style="italic" font-size="12.4" fill="#000">M</text><text x="245.00" y="58.00" font-family="Liberation Serif" font-style="italic" font-size="8.6" fill="#000" stroke="#000" stroke-width="0.1">S</text><path d="M254.10 52.00h7.1M254.10 54.10h7.1" stroke="#222" stroke-width="0.75"/><text transform="translate(264.20,56.10) scale(0.88,1)" font-family="Liberation Serif" font-size="11.8" fill="#000">750</text><text x="282.60" y="56.10" font-family="Liberation Sans" stroke="#000" stroke-width="0.15" font-size="11.2" fill="#000">GeV</text><path d="M187.20 67.95h17.7" stroke="#d62728" stroke-width="1.5" stroke-opacity="0.6"/><text x="212.80" y="71.85" font-family="Liberation Sans" stroke="#000" stroke-width="0.15" font-size="11.2" fill="#000">GF:</text><text transform="translate(234.60,71.85) scale(1.1,1)" font-family="Liberation Serif" font-style="italic" font-size="12.4" fill="#000">M</text><text x="245.00" y="73.75" font-family="Liberation Serif" font-style="italic" font-size="8.6" fill="#000" stroke="#000" stroke-width="0.1">S</text><path d="M254.10 67.75h7.1M254.10 69.85h7.1" stroke="#222" stroke-width="0.75"/><text transform="translate(264.20,71.85) scale(0.88,1)" font-family="Liberation Serif" font-size="11.8" fill="#000">1000</text><text x="287.60" y="71.85" font-family="Liberation Sans" stroke="#000" stroke-width="0.15" font-size="11.2" fill="#000">GeV</text><path d="M541.80 20.70h17.7" stroke="#1f77b4" stroke-width="1.5" stroke-opacity="0.6"/><text x="567.40" y="24.60" font-family="Liberation Sans" stroke="#000" stroke-width="0.15" font-size="11.2" fill="#000">GF:</text><text transform="translate(589.20,24.60) scale(1.1,1)" font-family="Liberation Serif" font-style="italic" font-size="12.4" fill="#000">M</text><text x="599.60" y="26.50" font-family="Liberation Serif" font-style="italic" font-size="8.6" fill="#000" stroke="#000" stroke-width="0.1">S</text><path d="M608.70 20.50h7.1M608.70 22.60h7.1" stroke="#222" stroke-width="0.75"/><text transform="translate(618.80,24.60) scale(0.88,1)" font-family="Liberation Serif" font-size="11.8" fill="#000">125</text><text x="637.20" y="24.60" font-family="Liberation Sans" stroke="#000" stroke-width="0.15" font-size="11.2" fill="#000">GeV</text><path d="M541.80 36.45h17.7" stroke="#ff7f0e" stroke-width="1.5" stroke-opacity="0.6"/><text x="567.40" y="40.35" font-family="Liberation Sans" stroke="#000" stroke-width="0.15" font-size="11.2" fill="#000">GF:</text><text transform="translate(589.20,40.35) scale(1.1,1)" font-family="Liberation Serif" font-style="italic" font-size="12.4" fill="#000">M</text><text x="599.60" y="42.25" font-family="Liberation Serif" font-style="italic" font-size="8.6" fill="#000" stroke="#000" stroke-width="0.1">S</text><path d="M608.70 36.25h7.1M608.70 38.35h7.1" stroke="#222" stroke-width="0.75"/><text transform="translate(618.80,40.35) scale(0.88,1)" font-family="Liberation Serif" font-size="11.8" fill="#000">400</text><text x="637.20" y="40.35" font-family="Liberation Sans" stroke="#000" stroke-width="0.15" font-size="11.2" fill="#000">GeV</text><path d="M541.80 52.20h17.7" stroke="#2ca02c" stroke-width="1.5" stroke-opacity="0.6"/><text x="567.40" y="56.10" font-family="Liberation Sans" stroke="#000" stroke-width="0.15" font-size="11.2" fill="#000">GF:</text><text transform="translate(589.20,56.10) scale(1.1,1)" font-family="Liberation Serif" font-style="italic" font-size="12.4" fill="#000">M</text><text x="599.60" y="58.00" font-family="Liberation Serif" font-style="italic" font-size="8.6" fill="#000" stroke="#000" stroke-width="0.1">S</text><path d="M608.70 52.00h7.1M608.70 54.10h7.1" stroke="#222" stroke-width="0.75"/><text transform="translate(618.80,56.10) scale(0.88,1)" font-family="Liberation Serif" font-size="11.8" fill="#000">750</text><text x="637.20" y="56.10" font-family="Liberation Sans" stroke="#000" stroke-width="0.15" font-size="11.2" fill="#000">GeV</text><path d="M541.80 67.95h17.7" stroke="#d62728" stroke-width="1.5" stroke-opacity="0.6"/><text x="567.40" y="71.85" font-family="Liberation Sans" stroke="#000" stroke-width="0.15" font-size="11.2" fill="#000">GF:</text><text transform="translate(589.20,71.85) scale(1.1,1)" font-family="Liberation Serif" font-style="italic" font-size="12.4" fill="#000">M</text><text x="599.60" y="73.75" font-family="Liberation Serif" font-style="italic" font-size="8.6" fill="#000" stroke="#000" stroke-width="0.1">S</text><path d="M608.70 67.75h7.1M608.70 69.85h7.1" stroke="#222" stroke-width="0.75"/><text transform="translate(618.80,71.85) scale(0.88,1)" font-family="Liberation Serif" font-size="11.8" fill="#000">1000</text><text x="642.20" y="71.85" font-family="Liberation Sans" stroke="#000" stroke-width="0.15" font-size="11.2" fill="#000">GeV</text><rect x="36.5" y="5.4" width="284.70" height="277.20" fill="none" stroke="#000" stroke-width="1.15"/><rect x="390.5" y="5.4" width="284.80" height="277.10" fill="none" stroke="#000" stroke-width="1.15"/></svg></body></html>
